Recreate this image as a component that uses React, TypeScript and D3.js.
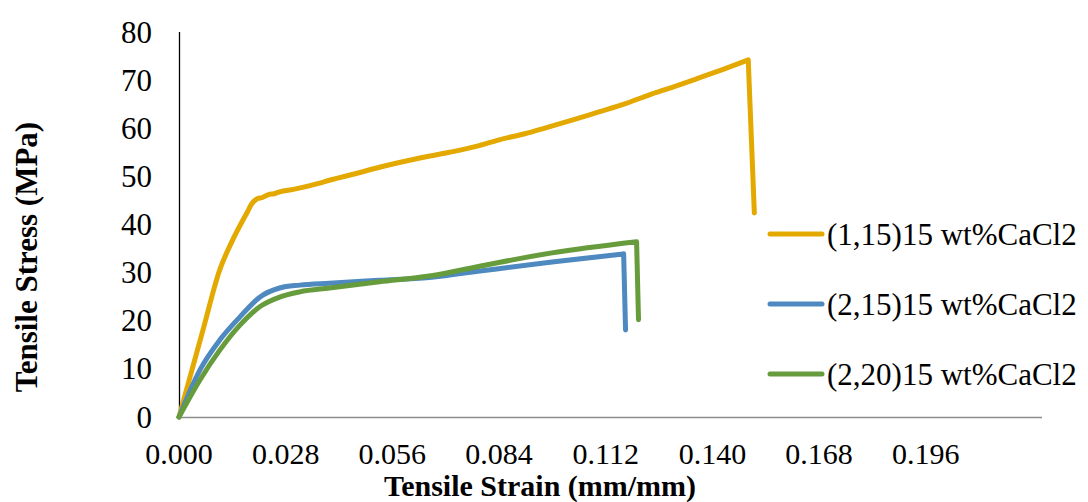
import React from "react";
import * as d3 from "d3";

// Tensile stress–strain curves for three fibre samples (strain in mm/mm, stress in MPa)
const seriesNames = [
  "(1,15)15 wt%CaCl2",
  "(2,15)15 wt%CaCl2",
  "(2,20)15 wt%CaCl2",
];
const seriesColors = ["#E3A900", "#4E89C0", "#679C3D"];

const strain115 = [0, 0.0063, 0.0107, 0.0141, 0.0178, 0.0192, 0.0204, 0.0218, 0.0238, 0.0250, 0.0264, 0.0300, 0.0369, 0.0395, 0.0460, 0.0526, 0.0590, 0.0657, 0.0709, 0.0788, 0.0840, 0.0905, 0.0971, 0.1036, 0.1102, 0.1168, 0.1233, 0.1298, 0.1363, 0.1430, 0.1494, 0.1510];
const stress115 = [0, 18.1, 30.6, 36.8, 42.4, 44.4, 45.3, 45.6, 46.3, 46.4, 46.8, 47.3, 48.6, 49.2, 50.5, 51.9, 53.1, 54.2, 55.0, 56.4, 57.6, 58.8, 60.3, 61.8, 63.4, 65.0, 66.9, 68.6, 70.4, 72.3, 74.2, 42.4];

const strain215 = [0, 0.0055, 0.0107, 0.0160, 0.0212, 0.0264, 0.0317, 0.0395, 0.0526, 0.0657, 0.0806, 0.0979, 0.1167, 0.1172];
const stress215 = [0, 9.8, 16.0, 20.8, 24.9, 26.8, 27.4, 27.8, 28.4, 29.0, 30.5, 32.2, 33.9, 18.1];

const strain220 = [0, 0.0055, 0.0107, 0.0160, 0.0212, 0.0264, 0.0317, 0.0395, 0.0526, 0.0657, 0.0806, 0.0979, 0.1201, 0.1206];
const stress220 = [0, 7.7, 13.9, 19.1, 22.9, 24.9, 26.0, 26.8, 28.1, 29.3, 31.6, 34.1, 36.4, 20.2];

const xTicks = [0, 0.028, 0.056, 0.084, 0.112, 0.14, 0.168, 0.196];
const yTicks = [0, 10, 20, 30, 40, 50, 60, 70, 80];

const W = 1088;
const H = 502;
const FONT = "'Liberation Serif', 'Times New Roman', serif";

export default function App() {
  const x = d3.scaleLinear().domain([0, 0.2265]).range([179, 1042]);
  const y = d3.scaleLinear().domain([0, 80]).range([417, 32]);

  const series = [
    { name: seriesNames[0], color: seriesColors[0], xs: strain115, ys: stress115 },
    { name: seriesNames[1], color: seriesColors[1], xs: strain215, ys: stress215 },
    { name: seriesNames[2], color: seriesColors[2], xs: strain220, ys: stress220 },
  ];

  // smooth loading branch, straight drop at fracture
  const rise = d3
    .line<[number, number]>()
    .x((d) => x(d[0]))
    .y((d) => y(d[1]))
    .curve(d3.curveMonotoneX);

  const pathFor = (xs: number[], ys: number[]) => {
    const pts = xs.map((v, i) => [v, ys[i]] as [number, number]);
    const loading = pts.slice(0, -1);
    const last = pts[pts.length - 1];
    return (rise(loading) || "") + `L${x(last[0])},${y(last[1])}`;
  };

  const legendY = [234, 304, 374];

  return (
    <svg
      width={W}
      height={H}
      style={{ position: "absolute", left: 0, top: 0, background: "#fff" }}
      fontFamily={FONT}
    >
      {/* axes */}
      <line x1={179} x2={1042} y1={417.5} y2={417.5} stroke="#8c8c8c" strokeWidth={1.5} />
      <line x1={179.5} x2={179.5} y1={32} y2={417.5} stroke="#000" strokeWidth={1.3} />

      {/* y tick labels */}
      {yTicks.map((t) => (
        <text key={"y" + t} x={152} y={y(t) + 10.5} textAnchor="end" fontSize={31} fill="#000">
          {t}
        </text>
      ))}

      {/* x tick labels */}
      {xTicks.map((t) => (
        <text key={"x" + t} x={x(t)} y={464} textAnchor="middle" fontSize={30} fill="#000">
          {d3.format(".3f")(t)}
        </text>
      ))}

      {/* axis titles */}
      <text x={540} y={496} textAnchor="middle" fontSize={30} fontWeight="bold" fill="#000">
        Tensile Strain (mm/mm)
      </text>
      <text
        transform="translate(37,257) rotate(-90)"
        textAnchor="middle"
        fontSize={31}
        fontWeight="bold"
        fill="#000"
      >
        Tensile Stress (MPa)
      </text>

      {/* curves */}
      {series.map((s) => (
        <path
          key={s.name}
          d={pathFor(s.xs, s.ys)}
          fill="none"
          stroke={s.color}
          strokeWidth={5}
          strokeLinejoin="round"
          strokeLinecap="round"
        />
      ))}

      {/* legend */}
      {series.map((s, i) => (
        <g key={"lg" + i}>
          <line
            x1={770}
            x2={822}
            y1={legendY[i]}
            y2={legendY[i]}
            stroke={s.color}
            strokeWidth={5}
            strokeLinecap="round"
          />
          <text x={827} y={legendY[i] + 11} fontSize={31} fill="#000">
            {s.name}
          </text>
        </g>
      ))}
    </svg>
  );
}
